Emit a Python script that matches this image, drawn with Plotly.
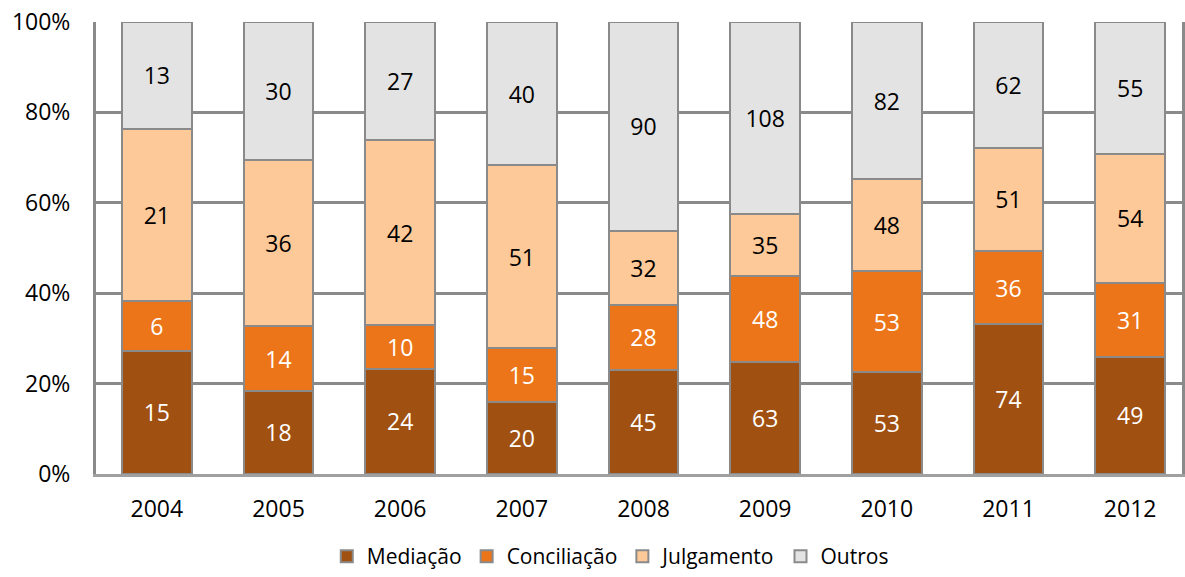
import plotly.graph_objects as go

years = ["2004", "2005", "2006", "2007", "2008", "2009", "2010", "2011", "2012"]
mediacao = [15, 18, 24, 20, 45, 63, 53, 74, 49]
conciliacao = [6, 14, 10, 15, 28, 48, 53, 36, 31]
julgamento = [21, 36, 42, 51, 32, 35, 48, 51, 54]
outros = [13, 30, 27, 40, 90, 108, 82, 62, 55]

series = [
    ("Mediação", mediacao, "#A05010", "white"),
    ("Conciliação", conciliacao, "#EC7519", "white"),
    ("Julgamento", julgamento, "#FDC998", "black"),
    ("Outros", outros, "#E3E3E3", "black"),
]

FONT = "Open Sans"
FS = 23
fig = go.Figure()
for name, vals, color, tcolor in series:
    fig.add_trace(go.Bar(
        x=years, y=vals, name=name,
        marker=dict(color=color, line=dict(color="#8A8A8A", width=2)),
        text=[str(v) for v in vals],
        textposition="inside", insidetextanchor="middle",
        textfont=dict(family=FONT, size=FS, color=tcolor),
        constraintext="none",
        width=0.575,
    ))

fig.update_layout(
    barmode="stack", barnorm="percent",
    width=1185, height=577,
    margin=dict(l=96, r=0, t=22, b=103),
    paper_bgcolor="white", plot_bgcolor="white",
    font=dict(family=FONT, size=FS, color="black"),
    uniformtext=dict(minsize=8, mode="show"),
    legend=dict(orientation="h", xref="container", yref="container",
                x=0.515, xanchor="center", y=-0.008, yanchor="bottom",
                font=dict(family=FONT, size=21), itemwidth=30,
                traceorder="normal"),
)
fig.update_xaxes(
    type="category", range=[-0.5, 8.426],
    showline=True, linecolor="#A0A0A0", linewidth=3, mirror=False,
    ticks="", ticklabelstandoff=12, tickfont=dict(family=FONT, size=FS),
)
fig.update_yaxes(
    range=[0, 100], tickvals=[0, 20, 40, 60, 80, 100],
    ticktext=["0%", "20%", "40%", "60%", "80%", "100%"],
    showgrid=True, gridcolor="#8A8A8A", gridwidth=3,
    showline=True, linecolor="#8A8A8A", linewidth=3, mirror=True,
    zeroline=False, ticks="", ticklabelstandoff=18,
    tickfont=dict(family=FONT, size=FS),
)
fig.write_html("out.html")
